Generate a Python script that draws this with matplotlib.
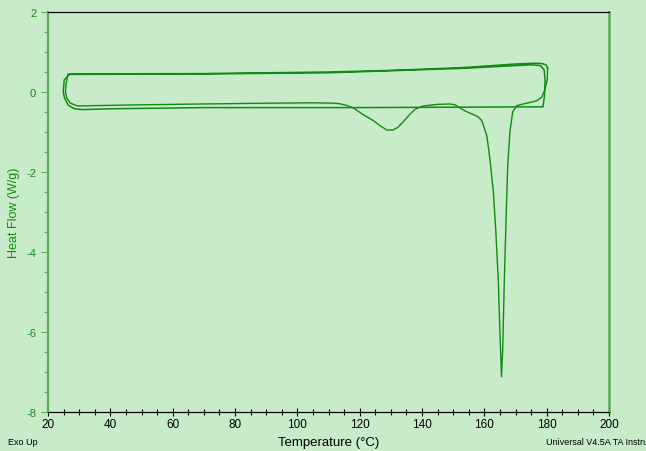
import matplotlib
matplotlib.use("Agg")
import matplotlib.pyplot as plt
from matplotlib.ticker import MultipleLocator

plt.rcParams['font.family'] = ['Liberation Sans', 'DejaVu Sans']
plt.rcParams['axes.unicode_minus'] = False

# first heating run: glass/cold region, small endotherm ~130 C, melting peak ~165 C
heat_T = [26.4, 25.8, 25.6, 26.0, 27.2, 29.5, 35, 50, 69, 90, 105, 112, 114, 116,
          118, 121, 124.3, 126.5, 128.7, 130.7, 132.3, 133.9, 136.2, 137.8, 140.3,
          144.8, 149, 150.6, 152.2, 154, 155.4, 156.4, 158, 159.2, 160.8, 161.8,
          162.9, 163.7, 164.5, 165, 165.5, 165.9, 166.4, 167, 167.5, 168.2, 169.1,
          170.4, 173.6, 176.8, 178.4, 179.5, 180.2, 180.3]
heat_HF = [0.44, 0.2, 0.0, -0.15, -0.28, -0.35, -0.34, -0.32, -0.30, -0.28, -0.27,
           -0.28, -0.30, -0.34, -0.40, -0.56, -0.71, -0.84, -0.95, -0.95, -0.88,
           -0.75, -0.55, -0.43, -0.35, -0.31, -0.30, -0.32, -0.40, -0.48, -0.53,
           -0.56, -0.62, -0.72, -1.09, -1.68, -2.5, -3.5, -4.75, -6.0, -7.12, -6.43,
           -4.75, -3.1, -1.85, -1.0, -0.5, -0.34, -0.28, -0.22, -0.13, 0.07, 0.32, 0.6]

# cooling / isothermal / second pass loop
cyc_T = [180.3, 179.8, 178.5, 176, 170, 153, 130, 110, 69, 40, 27, 25.2, 24.9, 25.3,
         26.5, 28.5, 31, 40, 70, 120, 178.8, 179.3, 179.5, 179.2, 178, 175, 153, 110,
         69, 30, 26.4]
cyc_HF = [0.6, 0.68, 0.71, 0.72, 0.70, 0.61, 0.54, 0.50, 0.46, 0.455, 0.45, 0.3, 0.0,
          -0.15, -0.33, -0.42, -0.44, -0.42, -0.39, -0.39, -0.37, -0.1, 0.3, 0.55,
          0.66, 0.68, 0.59, 0.48, 0.45, 0.44, 0.44]

bg = '#c8ecca'
line_col = '#138a13'
axis_green = '#5aaa5a'

fig = plt.figure(figsize=(6.46, 4.52), dpi=100, facecolor=bg)
ax = fig.add_axes([48 / 646, 1 - 413 / 452, 561 / 646, 400 / 452], facecolor=bg)

ax.plot(cyc_T, cyc_HF, color=line_col, lw=1.1)
ax.plot(heat_T, heat_HF, color=line_col, lw=1.0)

ax.set_xlim(20, 200)
ax.set_ylim(-8, 2)
ax.xaxis.set_major_locator(MultipleLocator(20))
ax.xaxis.set_minor_locator(MultipleLocator(5))
ax.yaxis.set_major_locator(MultipleLocator(2))
ax.yaxis.set_minor_locator(MultipleLocator(0.5))

ax.spines['left'].set_color(axis_green)
ax.spines['left'].set_linewidth(1.6)
ax.spines['right'].set_color(axis_green)
ax.spines['right'].set_linewidth(1.8)
ax.spines['top'].set_color('black')
ax.spines['top'].set_linewidth(0.9)
ax.spines['bottom'].set_color('black')
ax.spines['bottom'].set_linewidth(0.9)

ax.tick_params(axis='y', which='both', colors=line_col, labelsize=8, direction='out')
ax.tick_params(axis='y', which='major', length=5, width=0.8, color=axis_green)
ax.tick_params(axis='y', which='minor', length=3, width=0.8, color=axis_green)
ax.tick_params(axis='x', which='both', colors='black', labelsize=8.5, direction='inout')
ax.tick_params(axis='x', which='major', length=6, width=0.8, pad=1)
ax.tick_params(axis='x', which='minor', length=4, width=0.8)

ax.set_ylabel('Heat Flow (W/g)', color=line_col, fontsize=9)
ax.yaxis.set_label_coords(-28 / 561, 0.5)
ax.set_xlabel('Temperature (°C)', color='black', fontsize=9.5, labelpad=5)

fig.text(8 / 646, 1 - 443 / 452, 'Exo Up', fontsize=6.5, va='center', ha='left')
fig.text(546 / 646, 1 - 443 / 452, 'Universal V4.5A TA Instruments', fontsize=6.5,
         va='center', ha='left')

fig.savefig('out.png', dpi=100, facecolor=bg)
